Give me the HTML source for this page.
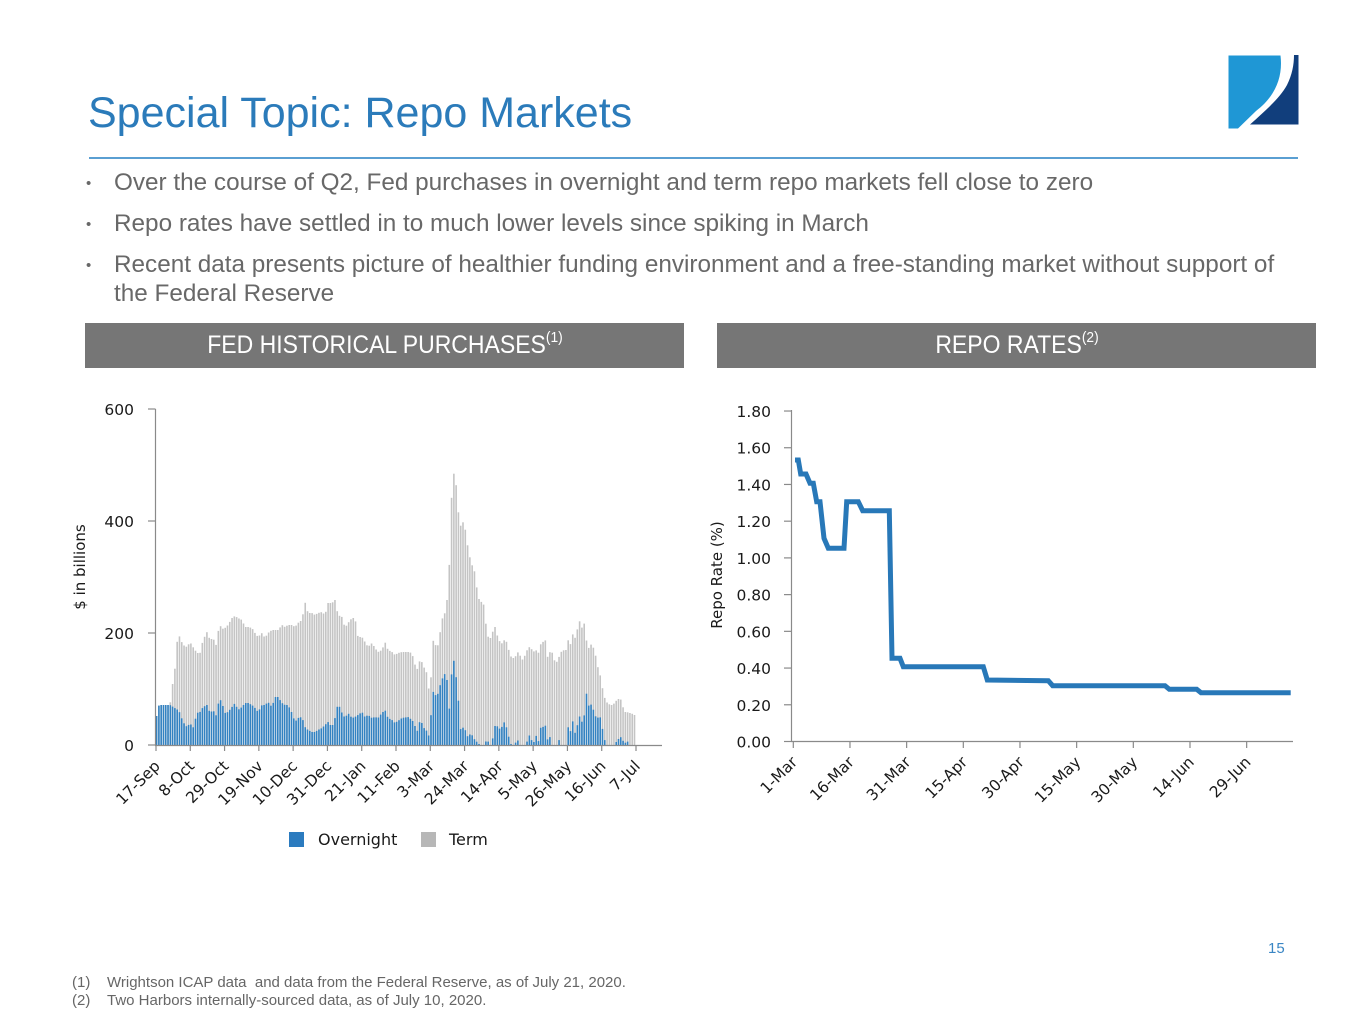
<!DOCTYPE html>
<html><head><meta charset="utf-8"><style>
html,body{margin:0;padding:0;background:#fff;}
svg{display:block;}
.t{font-family:"Liberation Sans",Arial,sans-serif;}
.c{font-family:"DejaVu Sans","Liberation Sans",sans-serif;}
</style></head><body>
<svg width="1365" height="1024" viewBox="0 0 1365 1024" xmlns="http://www.w3.org/2000/svg">
<rect width="1365" height="1024" fill="#fff"/>
<!-- logo -->
<path d="M1228.5,55.5 L1280.5,55.5 C1283,76 1276,96 1256,111 L1238,128.5 L1228.5,128.5 Z" fill="#1f97d5"/>
<path d="M1294,55 L1298.5,55 L1298.5,124.5 L1250,124.5 C1266,110 1280,98 1287,85 C1292,75 1294,65 1294,55 Z" fill="#113e7c"/>
<!-- title -->
<text class="t" x="88" y="127" font-size="43" fill="#2b7bba">Special Topic: Repo Markets</text>
<rect x="89" y="157" width="1209" height="2" fill="#5a9fd2"/>
<!-- bullets -->
<g class="t" font-size="24.3" fill="#686868">
<text x="86" y="188" font-size="15">•</text>
<text x="114" y="190">Over the course of Q2, Fed purchases in overnight and term repo markets fell close to zero</text>
<text x="86" y="229" font-size="15">•</text>
<text x="114" y="231">Repo rates have settled in to much lower levels since spiking in March</text>
<text x="86" y="270" font-size="15">•</text>
<text x="114" y="272">Recent data presents picture of healthier funding environment and a free-standing market without support of</text>
<text x="114" y="301">the Federal Reserve</text>
</g>
<!-- header bars -->
<rect x="85" y="323" width="599" height="45" fill="#767676"/>
<rect x="717" y="323" width="599" height="45" fill="#767676"/>
<text class="t" transform="translate(385,353) scale(0.92,1)" text-anchor="middle" font-size="25" fill="#fff">FED HISTORICAL PURCHASES<tspan font-size="15" dy="-11">(1)</tspan></text>
<text class="t" transform="translate(1017,353) scale(0.92,1)" text-anchor="middle" font-size="25" fill="#fff">REPO RATES<tspan font-size="15" dy="-11">(2)</tspan></text>

<!-- LEFT CHART -->
<g id="bars"></g>
<g stroke="#8a8a8a" stroke-width="1.2" fill="none">
<line x1="155.5" y1="409" x2="155.5" y2="745.5"/>
<line x1="155" y1="745.5" x2="662" y2="745.5"/>
<line x1="148" y1="409" x2="155.5" y2="409"/>
<line x1="148" y1="521" x2="155.5" y2="521"/>
<line x1="148" y1="633" x2="155.5" y2="633"/>
<line x1="148" y1="745" x2="155.5" y2="745"/>
<g id="lticks"></g>
</g>
<g class="c" font-size="15.5" fill="#1a1a1a" text-anchor="end">
<text x="134" y="415">600</text>
<text x="134" y="527">400</text>
<text x="134" y="639">200</text>
<text x="134" y="751">0</text>
</g>
<text class="c" font-size="15" fill="#1a1a1a" text-anchor="middle" transform="translate(85,567) rotate(-90)">$ in billions</text>
<g id="llabels" class="c" font-size="15.5" fill="#1a1a1a" text-anchor="end"></g>
<!-- legend -->
<rect x="289" y="832" width="15" height="15" fill="#2b7bbf"/>
<text class="c" x="318" y="845" font-size="16" fill="#1a1a1a">Overnight</text>
<rect x="421" y="832" width="15" height="15" fill="#b7b7b7"/>
<text class="c" x="449" y="845" font-size="16" fill="#1a1a1a">Term</text>

<!-- RIGHT CHART -->
<g stroke="#8a8a8a" stroke-width="1.2" fill="none">
<line x1="791.5" y1="410" x2="791.5" y2="742"/>
<line x1="791" y1="741.5" x2="1293" y2="741.5"/>
<g id="rticks"></g>
</g>
<g id="rylabels" class="c" font-size="15.5" fill="#1a1a1a" text-anchor="end"></g>
<text class="c" font-size="15" fill="#1a1a1a" text-anchor="middle" transform="translate(722,575) rotate(-90)">Repo Rate (%)</text>
<g id="rlabels" class="c" font-size="15.5" fill="#1a1a1a" text-anchor="end"></g>
<polyline fill="none" stroke="#2878b8" stroke-width="5" points="795,460 798.3,460 800.7,474 806,474 810,483.3 813.3,483.3 816.7,501.7 820,501.7 824,538.3 828.3,548.3 844,548.3 846.7,501.7 858.3,501.7 862.7,510.7 889.3,510.7 892,658.3 900,658.3 903.3,666.7 983.3,666.7 987.3,680 1048.3,680.7 1052.7,685.7 1165,685.7 1169.3,689.3 1196.7,689.3 1201,692.7 1290.7,692.7"/>

<!-- page number & footnotes -->
<text class="t" x="1268" y="953" font-size="15" fill="#3a86c4">15</text>
<g class="t" font-size="15" fill="#666">
<text x="72" y="987">(1)</text>
<text x="107" y="987" xml:space="preserve">Wrightson ICAP data  and data from the Federal Reserve, as of July 21, 2020.</text>
<text x="72" y="1005">(2)</text>
<text x="107" y="1005">Two Harbors internally-sourced data, as of July 10, 2020.</text>
</g>
</svg>
<script>
(function(){
var G=[[157,716],[159,705],[170,705],[172,688],[175,668],[178,632],[180,638],[183,645],[187,647],[190,642],[193,647],[197,653],[200,653],[203,640],[207,632],[210,640],[213,638],[217,647],[219,623],[222,629],[225,628],[228,625],[232,618],[235,616],[238,618],[242,620],[245,627],[248,627],[252,628],[255,633],[258,637],[262,633],[265,638],[268,633],[272,630],[275,630],[278,630],[282,625],[285,627],[288,625],[292,625],[295,627],[298,623],[302,620],[305,602],[308,613],[312,613],[315,615],[318,613],[322,612],[325,615],[328,603],[332,603],[335,600],[338,615],[342,617],[345,628],[348,623],[352,618],[355,618],[358,637],[362,637],[365,642],[368,647],[372,643],[375,648],[378,652],[382,650],[385,642],[388,650],[392,652],[395,655],[398,653],[402,652],[405,652],[408,652],[412,653],[414,662],[417,670],[419,662],[421,660],[423,665],[426,672],[428,673],[430,717],[432,637],[434,643],[437,647],[438,645],[441,627],[443,615],[446,612],[448,588],[450,552],[452,483],[455,468],[457,498],[459,518],[461,527],[464,520],[466,535],[468,548],[471,563],[473,567],[475,573],[478,598],[480,600],[482,603],[484,605],[487,635],[489,638],[491,638],[494,627],[496,627],[498,640],[501,642],[503,645],[505,637],[508,647],[510,655],[512,658],[515,658],[517,652],[519,653],[522,660],[524,658],[526,652],[529,647],[531,648],[533,652],[536,650],[538,655],[540,645],[543,642],[545,637],[547,658],[550,652],[552,652],[554,660],[557,662],[559,657],[561,652],[564,650],[566,650],[568,640],[571,645],[573,633],[575,638],[578,627],[580,620],[582,628],[585,622],[587,647],[589,648],[592,643],[594,650],[596,657],[599,673],[601,677],[603,692],[606,702],[608,703],[610,705],[613,705],[615,702],[617,700],[620,698],[622,702],[624,712],[627,712],[629,713],[631,713],[634,715]];
var B=[[157,716],[159,705],[170,705],[178,710],[180,713],[183,722],[187,727],[190,723],[193,728],[197,713],[200,712],[203,707],[207,705],[210,713],[213,710],[217,717],[219,697],[222,703],[225,713],[228,712],[232,707],[235,703],[238,710],[242,707],[245,703],[248,703],[252,705],[255,708],[258,712],[262,705],[265,705],[268,702],[272,707],[275,697],[278,697],[282,703],[285,705],[288,705],[292,713],[295,722],[298,718],[302,717],[305,727],[308,730],[312,732],[315,732],[318,730],[322,728],[325,725],[328,722],[332,727],[335,718],[338,703],[342,713],[345,718],[348,713],[352,718],[355,717],[358,715],[362,712],[365,717],[368,715],[372,718],[375,717],[378,718],[382,713],[385,710],[388,718],[392,720],[395,723],[402,718],[408,717],[412,720],[414,723],[417,732],[419,723],[421,720],[423,727],[426,730],[428,733],[430,740],[432,690],[434,693],[437,697],[441,682],[443,677],[446,672],[448,688],[450,720],[452,662],[455,660],[457,690],[459,705],[461,733],[464,725],[466,733],[468,737],[471,733],[473,737],[475,740],[478,743],[480,745],[485,745],[487,737],[489,745],[492,745],[494,727],[496,725],[498,727],[501,730],[503,723],[505,722],[508,733],[510,743],[512,745],[515,745],[517,737],[519,745],[526,745],[529,735],[531,738],[533,745],[536,735],[538,745],[540,728],[543,727],[545,723],[547,740],[550,737],[552,745],[557,745],[559,740],[561,745],[566,745],[568,727],[571,732],[573,720],[575,733],[578,723],[580,715],[582,722],[585,713],[587,687],[589,708],[592,703],[594,713],[596,717],[599,718],[601,717],[603,733],[606,745],[615,745],[617,740],[620,738],[622,736],[624,745],[627,740],[629,745],[635,745]];
function ip(P,x){if(x<=P[0][0])return P[0][1];for(var i=1;i<P.length;i++){if(x<=P[i][0]){var a=P[i-1],b=P[i];return a[1]+(b[1]-a[1])*(x-a[0])/(b[0]-a[0]);}}return P[P.length-1][1];}
var N=210,x0=156.6,x1=634.5,p=(x1-x0)/(N-1),s='';
for(var i=0;i<N;i++){var x=x0+i*p,gy=ip(G,x),by=ip(B,x);if(by<gy)gy=by;
s+='<rect x="'+(x-0.8).toFixed(2)+'" y="'+gy.toFixed(1)+'" width="1.6" height="'+(745-gy).toFixed(1)+'" fill="#c4c4c4"/>';
if(745-by>0.4)s+='<rect x="'+(x-0.8).toFixed(2)+'" y="'+by.toFixed(1)+'" width="1.6" height="'+(745-by).toFixed(1)+'" fill="#3282c2"/>';}
document.getElementById('bars').innerHTML=s;
var LL=['17-Sep','8-Oct','29-Oct','19-Nov','10-Dec','31-Dec','21-Jan','11-Feb','3-Mar','24-Mar','14-Apr','5-May','26-May','16-Jun','7-Jul'];
var t='',l='';
for(var k=0;k<LL.length;k++){var tx=156+k*34.286;t+='<line x1="'+tx+'" y1="745" x2="'+tx+'" y2="751"/>';
var ax=tx+5,ay=767;l+='<text x="'+ax+'" y="'+ay+'" transform="rotate(-45 '+ax+' '+ay+')">'+LL[k]+'</text>';}
document.getElementById('lticks').innerHTML=t;document.getElementById('llabels').innerHTML=l;
var RL=['1-Mar','16-Mar','31-Mar','15-Apr','30-Apr','15-May','30-May','14-Jun','29-Jun'];
t='';l='';
for(k=0;k<RL.length;k++){var rx=793.3+k*56.67;t+='<line x1="'+rx+'" y1="741.5" x2="'+rx+'" y2="748"/>';
var bx=rx+5,byy=763;l+='<text x="'+bx+'" y="'+byy+'" transform="rotate(-45 '+bx+' '+byy+')">'+RL[k]+'</text>';}
var yl='';
for(k=0;k<=9;k++){var v=k*0.2,yy=741.5-v*183.6;t+='<line x1="784" y1="'+yy+'" x2="791.5" y2="'+yy+'"/>';yl+='<text x="771" y="'+(yy+6)+'">'+v.toFixed(2)+'</text>';}
document.getElementById('rticks').innerHTML=t;document.getElementById('rlabels').innerHTML=l;document.getElementById('rylabels').innerHTML=yl;
})();
</script>
</body></html>
